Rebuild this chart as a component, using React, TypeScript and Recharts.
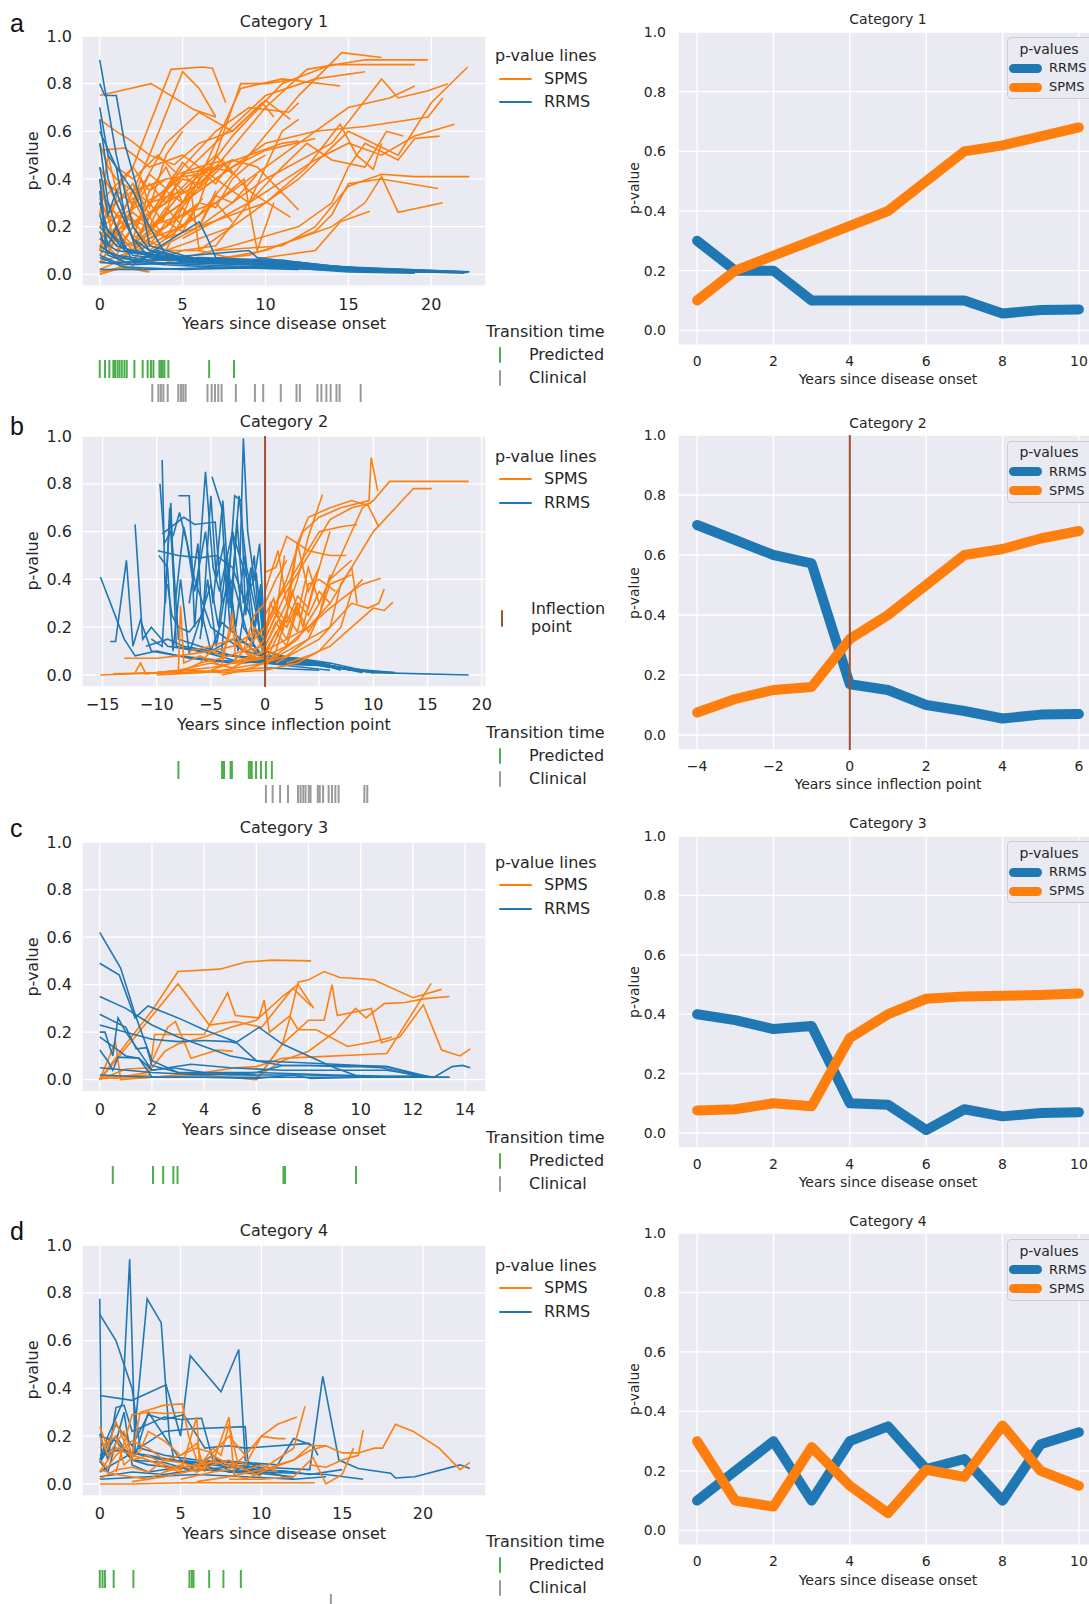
import { LineChart, Line, XAxis, YAxis, CartesianGrid, ReferenceLine, ScatterChart, Scatter } from "recharts"

const ORANGE = "#ff7f0e"
const BLUE = "#1f77b4"
const GREEN = "#4cae4c"
const GREY = "#9a9a9a"
const BROWN = "#a0522d"
const BG = "#eaeaf2"
const INK = "#262626"

// ---- Category 1: individual p-value lines, pairs of (year, p) ----
const cat1Spms: number[][] = [
  [0, .75, 3.1, .8, 5.7, .69, 7, .66],
  [0, .65, 1, .6, 1.9, .56, 3, .5, 4.5, .46, 6, .55, 8, .6, 9.8, .72, 10.5, .66],
  [0, .3, 2, .45, 4.3, .86, 6.2, .87, 6.8, .865, 7.6, .72],
  [1, .2, 3, .5, 5, .85, 6, .78, 7, .66],
  [0, .05, 3, .12, 6, .25, 9, .5, 12, .75, 14.6, .93, 17, .91],
  [1, .1, 4, .2, 7, .45, 10, .7, 12.5, .86, 16, .9, 19.8, .9],
  [2, .15, 5, .3, 8, .58, 11, .8, 14, .88, 19, .88],
  [0, .2, 4, .35, 8, .62, 10, .75, 13, .82, 16, .85],
  [1, .05, 5, .25, 8.5, .78, 11, .82, 14.5, .79],
  [3, .1, 7, .3, 10, .45, 13, .6, 15, .7, 17.5, .74, 19, .79],
  [2, .05, 6, .2, 10, .4, 14, .55, 17, .82, 18, .74, 19.8, .77, 21, .8],
  [4, .1, 8, .2, 12, .4, 15, .6, 18, .5, 20, .72, 22.2, .87],
  [3, .2, 7, .4, 10, .55, 13, .6, 16, .62, 19.8, .66, 20.7, .74],
  [5, .15, 9, .3, 13, .48, 15, .55, 17, .5, 19, .58, 21.4, .63],
  [4, .05, 8, .12, 12, .2, 14, .3, 15, .45, 16, .55, 18, .48, 19, .57, 20.5, .58],
  [6, .05, 10, .1, 13, .18, 14, .25, 15, .38, 17, .4, 20.4, .36],
  [7, .1, 11, .12, 13, .2, 15, .37, 17, .42, 19, .41, 22.3, .41],
  [5, .05, 9, .08, 12, .15, 14, .2, 16, .3, 17, .41, 18, .26, 20.7, .3],
  [8, .05, 11, .08, 13, .1, 14.5, .22, 16.3, .265],
  [6, .2, 10, .3, 12.5, .45, 14.5, .63, 15.5, .5, 16.5, .44, 17, .55],
  [9, .3, 11, .45, 12.5, .55, 14, .48, 16, .45, 17.3, .6, 18.3, .58],
  [0, .4, 2, .3, 4, .55, 6, .68, 8, .6, 10, .73, 11.5, .65],
  [0, .15, 3, .25, 5, .45, 7, .6, 9, .7, 11.4, .68, 12, .72],
  [1, .1, 3, .3, 5, .42, 7, .45, 9, .5, 11, .55, 12, .56],
  [2, .1, 4, .25, 6, .35, 8, .45, 10, .52, 13, .57],
  [0, .25, 2, .35, 4, .4, 6, .42, 8, .48, 9.5, .45, 12, .27],
  [0, .1, 2, .22, 4, .3, 6, .38, 7.5, .47, 9, .35, 11.5, .24],
  [1, .05, 3, .15, 5, .2, 7, .3, 8.7, .4, 9.5, .1, 10.5, .3],
  [3, .05, 5, .1, 7, .12, 9, .3, 11, .6, 12, .65],
  [4, .2, 6, .3, 7.5, .6, 8.5, .8, 10, .8, 12, .82],
  [0, .52, 1.5, .53, 3, .45, 5, .5, 7, .4, 9, .3],
  [0, .55, .5, .45, 1, .4, 3, .3, 5, .35],
  [0, .35, 1, .25, 3, .2, 5, .25, 7, .3, 8, .22],
  [0, .02, 1, .05, 2, .1, 4, .2, 5.5, .35, 6, .1, 8, .2],
  [0, .2, 1, .3, 2, .15, 3, .35, 4, .45, 5, .3],
  [0, .3, 1, .2, 2, .35, 3, .2, 4, .15, 6, .2, 7, .35],
  [0, .05, 1, .15, 2, .12, 3, .25, 4, .3, 5.5, .4, 7, .5, 8, .42],
  [0, .4, .8, .15, 1.8, .25, 2.5, .18, 3.5, .3, 4.5, .42],
  [0, .1, .5, .3, 1.5, .2, 2.5, .4, 3, .28, 4, .5, 5, .6],
  [0, 0, 1, .02, 2, .03, 3, .01],
  [0, 0, 2, .05, 4, .1, 6, .1, 9, .05],
  [0, .15, 1, .08, 2, .2, 3, .12, 4, .22, 5, .18, 6, .3],
  [0, .25, .5, .5, 1, .35, 2, .45, 3, .35, 4, .4],
  [0, .05, .6, .1, 1.2, .18, 2, .12, 3.5, .22, 5, .35, 6.5, .45, 8, .43],
  [1, .45, 2, .4, 3.5, .5, 4.7, .42, 6, .45, 7.5, .48],
  [0, .1, 1, .25, 2, .32, 3, .18, 4, .28, 5, .2, 6.2, .32],
  [0, .01, 1.5, .03, 2.9, .01],
  [0, .45, 1, .3, 2, .38, 3, .25, 4, .32, 5, .4, 6, .38, 7, .45],
  [0, .18, .7, .12, 1.4, .26, 2.2, .2, 3, .3, 3.8, .22, 4.6, .38, 5.5, .32],
  [0, .08, 1, .18, 2, .1, 3, .24, 4, .15, 5, .28, 6, .2, 7, .33, 8, .3, 9.5, .42],
  [0, .22, 1, .12, 2, .28, 3, .38, 4, .3, 5, .42, 6, .36, 7.5, .46],
  [0, .32, .6, .22, 1.3, .4, 2, .28, 3, .42, 4, .36, 5, .47, 6, .4],
  [1, .02, 2, .06, 3, .14, 4, .1, 5, .24, 6, .3, 7, .28, 8, .4, 9, .46, 10, .5],
  [0, .12, 1, .2, 2, .26, 3, .2, 4, .35, 5, .3, 6, .44, 7, .38, 8, .48],
]
const cat1Rrms: number[][] = [
  [0, .9, .5, .7, 1, .5, 2, .2, 3, .1, 5, .07, 10, .05, 15, .03, 22, .01],
  [0, .8, .3, .75, 1, .75, 1.5, .55, 2.5, .3, 3, .12, 6, .06, 12, .05, 16, .02],
  [0, .7, .5, .5, 1, .45, 2, .35, 3, .2, 4, .08, 8, .05, 14, .03, 22.3, .01],
  [0, .65, .5, .4, 1, .3, 2, .15, 3, .1, 5, .05, 9, .04, 15, .02, 20, .01],
  [0, .6, 1, .45, 1.5, .25, 2.2, .1, 4, .06, 10, .05, 17, .02, 21, .01],
  [0, .45, .5, .25, 1, .35, 2, .15, 3, .07, 7, .06, 13, .04, 19, .01],
  [0, .4, .3, .2, 1, .15, 2, .08, 4, .06, 8, .06, 11, .04, 16, .01],
  [0, .3, .5, .18, 1.5, .1, 3, .09, 6, .22, 6.5, .15, 7, .07, 12, .04, 18, .01],
  [0, .2, 1, .12, 2, .1, 4, .07, 9, .1, 9.5, .07, 14, .03, 20.5, .01],
  [0, .12, 1, .07, 3, .05, 6, .04, 10, .03, 15, .02, 22, .005],
  [0, .05, 2, .04, 5, .05, 9, .04, 13, .02, 17, .01, 21.5, .01],
  [0, .08, 1, .05, 4, .06, 7, .05, 11, .06, 14, .03, 18, .01],
  [0, .25, .5, .12, 1, .2, 2, .05, 4, .04, 7, .03, 12, .02],
  [0, .35, .4, .1, 1, .08, 3, .06, 6, .07, 10, .06, 13, .03],
  [0, .02, 3, .02, 8, .03, 14, .02, 22, .01],
  [0, .15, 1, .1, 3, .08, 5, .07, 8, .06, 12, .05, 16, .02, 20, .01],
  [0, .55, .5, .3, 1, .2, 1.5, .1, 3, .08, 6, .05],
  [0, .1, 2, .06, 4, .09, 6, .05, 10, .04, 14, .02, 22.2, .008],
  [0, .07, 1.5, .03, 5, .02, 11, .03, 15, .01, 19, .005],
  [0, .18, .5, .08, 2, .04, 3.5, .1, 5, .06, 9, .05, 13.5, .02],
]
const cat1Predicted = [0, .32, .58, .82, .92, 1.07, 1.19, 1.33, 1.49, 1.63, 2.09, 2.59, 2.89, 3.09, 3.24, 3.6, 3.7, 3.8, 3.9, 4.14, 6.6, 8.1]
const cat1Clinical = [3.17, 3.54, 3.69, 3.84, 4.1, 4.74, 4.9, 5.04, 5.18, 6.5, 6.75, 6.95, 7.15, 7.35, 8.21, 9.36, 9.86, 10.92, 11.87, 12.07, 13.13, 13.37, 13.67, 13.93, 14.28, 14.47, 15.74]
const cat1Years = [0, 1, 2, 3, 4, 5, 6, 7, 8, 9, 10]
const cat1MeanRrms = [.3, .2, .2, .1, .1, .1, .1, .1, .056, .068, .07]
const cat1MeanSpms = [.1, .2, .25, .3, .35, .4, .5, .6, .62, .65, .68]

// ---- Category 2 ----
const cat2Rrms: number[][] = [
  [-15.2, .41, -13, .15, -12, .08, -10, .1, -7, .07, -3, .05, 0, .06, 4, .05, 8, .02, 12, .01],
  [-14.3, .14, -13.8, .14, -12.8, .48, -12.2, .12, -11.5, .23, -10.5, .1, -8, .08, -4, .06, 0, .05, 5, .04, 10, .01, 18.8, 0],
  [-12, .63, -11.3, .15, -10.5, .2, -9, .12, -6, .1, -2, .05, 0, .06, 3, .05, 7, .03, 11.8, .01],
  [-9.5, .9, -9.2, .3, -8.8, .7, -8, .15, -6, .12, -3, .08, 0, .07, 4, .06, 8, .02],
  [-9.7, .8, -9.3, .55, -8.7, .6, -8.3, .3, -7.5, .62, -6.5, .4, -5, .2, -2, .1, 0, .08, 3, .07, 6, .05, 9, .02],
  [-9.9, .52, -8, .5, -6, .49, -4.5, .5, -3, .45, -1, .2, 0, .1, 2, .07, 6, .04, 10, .01],
  [-9.5, .59, -7.5, .66, -6.5, .63, -4.6, .64, -4, .3, -3, .4, -1.5, .15, 0, .07, 4, .06, 7, .03],
  [-8, .75, -7, .75, -6.5, .2, -5.5, .85, -4.8, .45, -4.2, .35, -3, .6, -2, .2, 0, .05, 3, .06, 6, .03],
  [-4.9, .83, -4, .7, -3.5, .3, -2.8, .75, -2.2, .73, -1.8, .25, -1, .5, -.5, .15, 0, .06, 5, .05, 9, .01],
  [-2.3, .5, -2, .99, -1.6, .6, -1, .4, -.5, .55, -.2, .3, 0, .1, 4, .05, 8, .02],
  [-9.8, .5, -9, .45, -8.5, .1, -7.8, .4, -7, .09, -5, .38, -4.3, .2, -3.5, .5, -2.5, .1, -1.3, .45, 0, .03, 5, .02],
  [-7, .3, -6.2, .55, -5.8, .2, -5, .75, -4.5, .4, -3.8, .55, -3.2, .18, -2.6, .65, -2, .3, -.8, .42, 0, .08, 3, .07, 6, .04, 10, .01],
  [-11, .12, -9, .15, -7.5, .12, -5, .1, -3, .15, -1, .12, 0, .05, 2, .04, 6, .02],
  [-8.5, .58, -7.9, .68, -7.2, .55, -6.5, .35, -5.5, .6, -4.8, .3, -3.9, .73, -3.2, .28, -2.4, .75, -1.7, .45, -1, .3, 0, .07, 4, .06, 7, .02],
  [-4, .1, -3, .6, -2.5, .52, -1.5, .38, -1, .2, -.5, .35, 0, .05, 5, .04],
  [-6, .15, -5.3, .4, -4.5, .12, -3.4, .42, -2.7, .2, -1.9, .5, -1.1, .13, -.4, .38, 0, .04],
  [-9, .38, -8.6, .25, -8, .2, -7, .18, -5.8, .25, -5, .1, -4, .22, 0, .06, 6, .05],
  [-10.5, .15, -9.5, .12, -8.7, .72, -8.2, .12, -6, .1, -3, .08, 0, .06, 4, .05, 9, .015],
]
const cat2Spms: number[][] = [
  [-15.2, 0, -12, .005, -8, .01, -4, .02, 0, .05, 3, .15, 5, .3, 7, .5, 9, .7, 10, .73, 11.5, .81, 18.8, .81],
  [-10, .01, -5, .03, 0, .08, 2, .12, 4, .2, 6, .3, 8, .45, 10, .6, 13.7, .78, 15.4, .78],
  [-3, .05, 0, .2, 2, .4, 3.5, .6, 5, .66, 7, .7, 9.6, .73, 9.8, .91, 10.4, .77],
  [-5, .02, 0, .1, 2, .25, 3, .55, 4, .66, 6, .7, 8, .73, 9.5, .71, 10.5, .62],
  [0, .05, 1.5, .2, 3, .4, 4, .58, 5.3, .755],
  [-2, .05, 0, .15, 2, .35, 4, .5, 6, .65, 8, .7, 9.8, .72],
  [0, .12, 2, .3, 3, .55, 4, .52, 6, .5, 7.5, .5],
  [0, .2, 1, .3, 3, .45, 5, .6, 7, .62, 8.5, .63],
  [0, .43, 1, .45, 2, .58, 3, .55, 4, .35, 5, .45, 6, .6],
  [0, .35, 1.2, .52, 2, .3, 3, .25, 4, .45, 5, .3, 6, .4, 8, .48],
  [0, .1, 2, .15, 4, .2, 6, .28, 8, .35, 9, .38, 10.7, .405],
  [1, .05, 3, .1, 5, .15, 7, .25, 8, .3, 9.5, .28, 10.5, .3, 11, .36],
  [2, .05, 4, .08, 6, .12, 8, .2, 10, .28, 11, .27, 11.8, .305],
  [0, .05, 2, .1, 4, .15, 6, .2, 7, .38, 8, .45, 8.5, .3],
  [0, .15, 1, .25, 2, .2, 3, .3, 4, .25, 5, .35, 6, .3],
  [0, .08, 1, .18, 2, .12, 3, .28, 4, .18, 5, .25, 6, .42],
  [0, .25, .8, .32, 1.6, .18, 2.5, .35, 3.5, .2, 4.5, .38],
  [-8, .01, -6, .05, -4, .07, -2, .1, 0, .12, 1, .22, 2, .15, 3, .3],
  [-13, .07, -10, .07, -8, .08, -5, .1, -3, .12, -1, .18, 0, .09],
  [-12, .01, -11.5, .05, -11, .005, -8, .02, -5, .05, -3, .03, 0, .1],
  [-8, .02, -7.8, .29, -7.5, .05, -6, .08, -4, .04, -3, .26, -2.7, .05, 0, .07],
  [-10, 0, -6, .01, -3, .02, 0, .03, 1, .1, 2, .25, 3, .18, 4, .38, 5, .4, 6.5, .35],
  [-6, .05, -5, .1, -4, .08, -3, .2, -2, .1, -1, .25, 0, .3, 1, .4, 2, .48],
  [-4, 0, -2, .02, 0, .05, 2, .08, 4, .15, 5, .25, 6, .38, 7, .4, 8, .42],
  [-14, .005, -10, .01, -7, .02, -4, .01, 0, .02, 3, .05, 5, .1, 7, .2, 8, .35, 9, .4],
  [-7, .1, -5, .12, -3, .15, -1.5, .08, -1, .2, 0, .15, .5, .3, 1, .25, 1.8, .5],
  [0, .18, 1, .28, 2, .22, 3, .33, 4, .28, 5, .45],
]
const cat2Predicted = [-8, -3.97, -3.79, -3.18, -3.06, -1.5, -1.35, -1.23, -.83, -.38, .08, .63]
const cat2Clinical = [.08, .7, 1.39, 2.12, 3.04, 3.28, 3.53, 3.74, 4.04, 4.2, 4.87, 5.05, 5.36, 5.87, 6.18, 6.49, 6.79, 9.17, 9.44]
const cat2Years = [-4, -3, -2, -1, 0, 1, 2, 3, 4, 5, 6]
const cat2MeanRrms = [.7, .65, .6, .572, .169, .15, .1, .08, .055, .068, .07]
const cat2MeanSpms = [.075, .12, .15, .16, .32, .4, .5, .6, .62, .655, .68]

// ---- Category 3 ----
const cat3Spms: number[][] = [
  [0, 0, 1, .15, 2, .29, 3, .455, 4.6, .465, 5.6, .495, 6.6, .503, 8.1, .5],
  [0, 0, 1.5, .2, 3, .403, 4.2, .23, 5.2, .245, 6.2, .22, 7.4, .385, 8.1, .31],
  [0, .01, 1.9, .02, 2.1, .19, 4, .19, 4.9, .365, 5.2, .27, 6.1, .26, 6.3, .335, 6.5, .2, 7.3, .27, 7.6, .41, 8, .42, 8.6, .455, 9.2, .43, 10, .425, 10.5, .42, 12, .345, 13.1, .38],
  [.5, .005, 1.8, .03, 2.6, .22, 2.9, .245, 3.5, .09, 4.5, .125, 5.1, .12],
  [0, 0, .6, .16, .8, 0, 2, .01, 4, .02, 6, 0, 7, .15, 7.3, .265, 7.6, .21, 8.3, .21, 9.5, .14, 10.5, .16, 11.2, .18],
  [0, .005, 2, .01, 4, .03, 5.2, .05, 6, .055, 7, .09, 8, .095, 10, .105, 11, .11, 12.7, .405],
  [0, 0, 1, .045, 2, .05, 2.5, .12, 3, .15, 4, .18, 5, .22, 6, .25, 7, .35, 7.6, .4, 8.2, .3],
  [6, 0, 7, .15, 8, .25, 8.6, .25, 8.9, .4, 9.1, .27, 10, .29, 10.4, .3, 10.8, .155, 11.5, .18, 12.4, .315, 13.1, .125, 13.8, .1, 14.2, .13],
  [6, .01, 7, .08, 8, .12, 9, .2, 9.8, .3, 10.2, .26, 10.9, .32, 11.7, .325, 12.4, .34, 13.4, .35],
]
const cat3Rrms: number[][] = [
  [0, .62, .8, .47, 1.4, .26, 2, .08, 3, .03, 5, .02, 8, .02, 11, .01, 13.4, .01],
  [0, .49, .75, .44, 1.35, .26, 1.85, .31, 3, .26, 4, .21, 5.2, .16, 6, .08, 7, .06, 9, .06, 11, .055, 12.7, .01],
  [0, .35, 1, .3, 2, .23, 3, .18, 4, .14, 5, .1, 6, .08, 8, .07, 10, .06, 11, .055, 12.5, .01],
  [0, .275, 1, .22, 1.4, .13, 1.8, .135, 2, .06, 3, .03, 6, .03, 9, .02, 13, .01],
  [0, .23, 1, .2, 2, .17, 3, .16, 4, .165, 5, .16, 5.2, .155, 6.1, .22, 7, .15, 8, .1, 9, .05, 10, .01],
  [0, .2, .2, .2, .5, .1, .7, .26, 1, .2, 1.5, .12, 2, .04, 2.8, .05, 4, .03, 6, .02],
  [0, .18, .5, .14, 1, .1, 1.5, .09, 2, .04, 3.5, .065, 5, .05, 7, .04, 9, .04, 11, .04, 12.8, .01, 13.5, .055, 13.9, .06, 14.2, .05],
  [0, .125, .3, .08, .5, .04, .7, .095, 1.5, .09, 2, .01, 5, .01, 8, .01, 11, .01, 13.4, .01],
  [0, .05, 2, .03, 4, .02, 6, .03, 7, .06, 8, .06, 9.3, .055, 10, .055, 10.8, .05, 12, .02, 12.5, .01],
  [0, .02, 2, .01, 4, .01, 6, .005, 7.4, .02, 8.1, .005, 10, .01, 12, .015],
]
const cat3Predicted = [.5, 2.04, 2.43, 2.82, 2.98, 7.04, 7.1, 9.82]
const cat3Clinical: number[] = []
const cat3Years = [0, 1, 2, 3, 4, 5, 6, 7, 8, 9, 10]
const cat3MeanRrms = [.4, .38, .35, .36, .1, .095, .01, .08, .056, .067, .07]
const cat3MeanSpms = [.076, .08, .1, .09, .32, .4, .452, .46, .462, .465, .47]

// ---- Category 4 ----
const cat4Rrms: number[][] = [
  [0, .775, .1, .1, 1, .2, 2, .1, 3, .08, 6, .06, 10, .05, 14, .04, 16.3, .02],
  [0, .71, 1, .6, 2, .4, 2.5, .15, 4, .12, 6, .1, 10, .08],
  [0, .1, .5, .2, 1.4, .34, 1.85, .94, 2.2, .12, 3, .3, 4, .2, 5, .1, 7, .08],
  [2, .1, 2.93, .775, 3.8, .675, 4.3, .2, 4.6, .1, 6, .08, 8, .05, 10, .04],
  [0, .37, 2, .35, 4.1, .415, 5, .2, 5.6, .537, 7.5, .386, 8.6, .563, 9, .1, 10, .06, 12, .05],
  [0, .12, 1, .15, 2, .13, 4, .1, 6, .09, 10, .07, 13, .06, 13.8, .45, 14.8, .1, 16, .065, 18, .045, 18.3, .025, 19.5, .03, 22.3, .08, 22.9, .065],
  [0, .21, .5, .1, 1, .32, 1.5, .33, 2, .22, 4, .28, 5, .27, 6.3, .275, 7, .1, 9, .09, 11, .08, 12, .19, 13.2, .16, 13.5, .12],
  [0, .05, 2, .13, 4, .22, 5.5, .23, 9, .24, 9.2, .05, 12, .03],
  [0, .09, 1, .25, 2, .16, 3, .29, 4, .27, 5.2, .29, 6.5, .15, 8, .16, 9, .15, 13, .17],
  [0, .03, 2, .05, 4, .04, 6, .06, 8, .07, 10, .06, 12, .05, 13, .04, 15, .06],
  [0, .02, 3, .03, 6, .04, 9, .03, 12, .02, 14, .03],
  [.5, .12, 1, .14, 3, .12, 6, .08, 7.5, .1, 8, .05, 9, .07, 11, .04, 12, .02],
  [0, .2, 1, .18, 2, .1, 4, .09, 5.5, .06, 7, .12, 8, .05, 10, .06],
  [0, .095, .5, .05, 1.5, .3, 2, .08, 3, .05, 5, .07, 7, .08, 9.5, .06],
]
const cat4Spms: number[][] = [
  [0, 0, 2, 0, 5, .005, 10, .005, 13.3, .005],
  [0, .24, .5, .15, 1, .26, 2, .1, 3, .12, 4, .08, 5, .06],
  [0, .2, .5, .12, 1.5, .22, 2, .12, 2.5, .3, 3, .31, 4, .33, 5.1, .335, 5.5, .2, 6, .1, 7, .05],
  [1, .05, 2, .29, 3, .3, 4, .295, 5.2, .3],
  [0, .05, 1, .15, 2, .12, 3, .1, 4, .07, 5, .05, 6, .28, 6.2, .06, 7, .1, 8, .07],
  [2, .01, 4, .03, 6, .06, 7, .15, 7.5, .12, 8, .25, 8.5, .1, 9, .08, 10, .2, 11, .19, 11.5, .19],
  [5, .02, 7, .05, 8, .06, 9, .12, 10, .2, 11, .25, 12.2, .28],
  [6, .01, 8, .03, 10, .06, 12, .15, 12.7, .325],
  [8, .02, 10, .02, 12, .03, 13.2, .11, 14, 0, 15, .04, 15.7, .15],
  [10, .05, 12, .1, 13, .16, 14, .16, 15, .13, 16, .13, 17, .15, 17.5, .15, 18.3, .25, 19.4, .22, 21, .15, 22.3, .06, 22.9, .09],
  [13, .08, 14, .07, 15, .1, 16, .12, 16.3, .225],
  [0, .02, 1, .06, 2, .07, 3, .05, 4, .1, 5, .09, 6, .07, 7, .12, 8, .08, 9, .06, 10, .08, 11, .05],
  [0, .1, .5, .07, 1, .12, 2, .18, 3, .15, 4, .1, 5, .12, 6, .15, 7, .13, 8, .2, 9, .12],
  [4, .05, 5, .07, 6, .08, 7, .09, 8, .28, 8.3, .04, 9, .02, 10, .05, 11, .08, 12, .1, 13, .14, 14, .16],
  [0, .06, 1, .04, 3, .02, 5, .08, 6, .05, 7, .08, 8, .1, 9, .06, 10, .03],
  [0, .15, 1, .2, 1.5, .08, 2.5, .14, 3, .22, 4, .18, 5, .12, 6, .17, 6.5, .05],
]
const cat4Predicted = [0, .17, .32, .86, 2.08, 5.55, 5.7, 5.8, 6.77, 7.65, 8.73]
const cat4Clinical = [14.3]
const cat4Years = [0, 1, 2, 3, 4, 5, 6, 7, 8, 9, 10]
const cat4MeanRrms = [.1, .2, .3, .1, .3, .35, .206, .24, .1, .29, .33]
const cat4MeanSpms = [.3, .1, .08, .28, .15, .058, .204, .18, .353, .2, .15]

const yTicks = [0, 0.2, 0.4, 0.6, 0.8, 1.0]

const toPts = (flat: number[]) => {
  const pts = []
  for (let i = 0; i < flat.length; i += 2) pts.push({ x: flat[i], y: flat[i + 1] })
  return pts
}
const fmtX = (v: number) => (v < 0 ? "\u2212" + Math.abs(v) : String(v))
const fmtY = (v: number) => v.toFixed(1)

function Txt({ x, y, size = 16, center = false, rotate = false, children }: any) {
  let transform = center ? "translate(-50%, -50%)" : "translateY(-50%)"
  if (rotate) transform = "translate(-50%, -50%) rotate(-90deg)"
  return (
    <div style={{ position: "absolute", left: x, top: y, fontSize: size, lineHeight: 1.15, whiteSpace: "nowrap", color: INK, transform }}>
      {children}
    </div>
  )
}

function SpaghettiPanel({ top, zero, domain, ticks, spms, rrms, spmsFirst, inflection }: any) {
  const plotH = (zero - top) * 1.05
  const mt = 12
  const orange = spms.map((l: number[], i: number) => (
    <Line key={"s" + i} data={toPts(l)} dataKey="y" type="linear" stroke={ORANGE} strokeWidth={1.6} dot={false} activeDot={false} isAnimationActive={false} />
  ))
  const blue = rrms.map((l: number[], i: number) => (
    <Line key={"r" + i} data={toPts(l)} dataKey="y" type="linear" stroke={BLUE} strokeWidth={1.6} dot={false} activeDot={false} isAnimationActive={false} />
  ))
  return (
    <div style={{ position: "absolute", left: 0, top: top - mt }}>
      <LineChart width={514} height={mt + plotH + 34} margin={{ top: mt, right: 28, left: 0, bottom: 0 }}>
        <CartesianGrid fill={BG} stroke="#ffffff" strokeWidth={1.3} />
        <XAxis type="number" dataKey="x" domain={domain} ticks={ticks} allowDataOverflow interval={0} tickFormatter={fmtX}
          tickLine={false} axisLine={false} height={34} tickMargin={6} tick={{ fontSize: 16, fill: INK }} />
        <YAxis type="number" domain={[-0.05, 1]} ticks={yTicks} allowDataOverflow interval={0} tickFormatter={fmtY}
          tickLine={false} axisLine={false} width={82} tickMargin={4} tick={{ fontSize: 16, fill: INK }} />
        {spmsFirst ? orange : blue}
        {spmsFirst ? blue : orange}
        {inflection && <ReferenceLine x={0} stroke={BROWN} strokeWidth={2} />}
      </LineChart>
    </div>
  )
}

function MeanPanel({ top, zero, domain, ticks, years, rrms, spms, inflection }: any) {
  const plotH = (zero - top) * 1.05
  const mt = 12
  const data = years.map((x: number, i: number) => ({ x, rrms: rrms[i], spms: spms[i] }))
  return (
    <div style={{ position: "absolute", left: 600, top: top - mt }}>
      <LineChart width={500} height={mt + plotH + 30} data={data} margin={{ top: mt, right: 2, left: 0, bottom: 0 }}>
        <CartesianGrid fill={BG} stroke="#ffffff" strokeWidth={1.3} />
        <XAxis type="number" dataKey="x" domain={domain} ticks={ticks} allowDataOverflow interval={0} tickFormatter={fmtX}
          tickLine={false} axisLine={false} height={30} tickMargin={5} tick={{ fontSize: 14, fill: INK }} />
        <YAxis type="number" domain={[-0.05, 1]} ticks={yTicks} allowDataOverflow interval={0} tickFormatter={fmtY}
          tickLine={false} axisLine={false} width={78} tickMargin={6} tick={{ fontSize: 14, fill: INK }} />
        <Line dataKey="rrms" type="linear" stroke={BLUE} strokeWidth={10} strokeLinecap="round" strokeLinejoin="round" dot={false} activeDot={false} isAnimationActive={false} />
        <Line dataKey="spms" type="linear" stroke={ORANGE} strokeWidth={10} strokeLinecap="round" strokeLinejoin="round" dot={false} activeDot={false} isAnimationActive={false} />
        {inflection && <ReferenceLine x={0} stroke={BROWN} strokeWidth={2} />}
      </LineChart>
    </div>
  )
}

function Rug({ zero, domain, predicted, clinical }: any) {
  const tick = (color: string) => (p: any) => (
    <line x1={p.cx} x2={p.cx} y1={p.cy - 9} y2={p.cy + 9} stroke={color} strokeWidth={2} />
  )
  return (
    <div style={{ position: "absolute", left: 0, top: zero + 82.5 }}>
      <ScatterChart width={490} height={48} margin={{ top: 0, right: 4, left: 82, bottom: 0 }}>
        <XAxis type="number" dataKey="x" domain={domain} allowDataOverflow hide />
        <YAxis type="number" dataKey="y" domain={[0, 2]} hide />
        <Scatter data={predicted.map((x: number) => ({ x, y: 1.5 }))} fill={GREEN} shape={tick(GREEN)} isAnimationActive={false} />
        <Scatter data={clinical.map((x: number) => ({ x, y: 0.5 }))} fill={GREY} shape={tick(GREY)} isAnimationActive={false} />
      </ScatterChart>
    </div>
  )
}

const rows = [
  { letter: "a", title: "Category 1", lt: 35.7, lz: 274, rt: 31.7, rz: 330, domain: [-1.07, 23.3], ticks: [0, 5, 10, 15, 20],
    xTitle: "Years since disease onset", spms: cat1Spms, rrms: cat1Rrms, spmsFirst: true, pred: cat1Predicted, clin: cat1Clinical,
    years: cat1Years, mRrms: cat1MeanRrms, mSpms: cat1MeanSpms, rDomain: [-0.5, 10.5], rTicks: [0, 2, 4, 6, 8, 10], letterBase: 32 },
  { letter: "b", title: "Category 2", lt: 436, lz: 675, rt: 435, rz: 735, domain: [-16.9, 20.4], ticks: [-15, -10, -5, 0, 5, 10, 15, 20],
    xTitle: "Years since inflection point", spms: cat2Spms, rrms: cat2Rrms, spmsFirst: false, pred: cat2Predicted, clin: cat2Clinical,
    years: cat2Years, mRrms: cat2MeanRrms, mSpms: cat2MeanSpms, rDomain: [-4.5, 6.5], rTicks: [-4, -2, 0, 2, 4, 6], letterBase: 435, inflection: true },
  { letter: "c", title: "Category 3", lt: 842.3, lz: 1080, rt: 835.7, rz: 1132.7, domain: [-0.68, 14.8], ticks: [0, 2, 4, 6, 8, 10, 12, 14],
    xTitle: "Years since disease onset", spms: cat3Spms, rrms: cat3Rrms, spmsFirst: true, pred: cat3Predicted, clin: cat3Clinical,
    years: cat3Years, mRrms: cat3MeanRrms, mSpms: cat3MeanSpms, rDomain: [-0.5, 10.5], rTicks: [0, 2, 4, 6, 8, 10], letterBase: 837 },
  { letter: "d", title: "Category 4", lt: 1245, lz: 1484, rt: 1233.3, rz: 1530.7, domain: [-1.1, 23.9], ticks: [0, 5, 10, 15, 20],
    xTitle: "Years since disease onset", spms: cat4Spms, rrms: cat4Rrms, spmsFirst: false, pred: cat4Predicted, clin: cat4Clinical,
    years: cat4Years, mRrms: cat4MeanRrms, mSpms: cat4MeanSpms, rDomain: [-0.5, 10.5], rTicks: [0, 2, 4, 6, 8, 10], letterBase: 1240 },
]

function Handle({ x, y, w, h, color }: any) {
  return <div style={{ position: "absolute", left: x, top: y - h / 2, width: w, height: h, background: color, borderRadius: h / 2 }} />
}

export default function App() {
  return (
    <div style={{ position: "absolute", left: 0, top: 0, width: 1089, height: 1604, overflow: "hidden", background: "#fff", fontFamily: '"DejaVu Sans", sans-serif' }}>
      {rows.map((r) => {
        const lBottom = r.lz + (r.lz - r.lt) * 0.05
        const rBottom = r.rz + (r.rz - r.rt) * 0.05
        return (
          <div key={r.letter}>
            <SpaghettiPanel top={r.lt} zero={r.lz} domain={r.domain} ticks={r.ticks} spms={r.spms} rrms={r.rrms} spmsFirst={r.spmsFirst} inflection={r.inflection} />
            <Rug zero={r.lz} domain={r.domain} predicted={r.pred} clinical={r.clin} />
            <MeanPanel top={r.rt} zero={r.rz} domain={r.rDomain} ticks={r.rTicks} years={r.years} rrms={r.mRrms} spms={r.mSpms} inflection={r.inflection} />

            <div style={{ position: "absolute", left: 10, top: r.letterBase - 21.2, fontSize: 25, lineHeight: "25px", fontFamily: '"Liberation Sans", Arial, sans-serif', color: "#111" }}>{r.letter}</div>

            <Txt x={284} y={r.lt - 14} center>{r.title}</Txt>
            <Txt x={33} y={(r.lt + lBottom) / 2} rotate>p-value</Txt>
            <Txt x={284} y={r.lz + 50} center>{r.xTitle}</Txt>

            <Txt x={495} y={r.lt + 20.5}>p-value lines</Txt>
            <Handle x={499} y={r.lt + 43} w={33} h={2} color={ORANGE} />
            <Txt x={544} y={r.lt + 43}>SPMS</Txt>
            <Handle x={499} y={r.lt + 66.5} w={33} h={2} color={BLUE} />
            <Txt x={544} y={r.lt + 66.5}>RRMS</Txt>
            {r.inflection && (
              <>
                <Handle x={501} y={r.lt + 182.5} w={2} h={17} color={BROWN} />
                <Txt x={531} y={r.lt + 173}>Inflection</Txt>
                <Txt x={531} y={r.lt + 191}>point</Txt>
              </>
            )}

            <Txt x={486} y={r.lz + 57.5}>Transition time</Txt>
            <Handle x={499} y={r.lz + 80.5} w={2} h={16} color={GREEN} />
            <Txt x={529} y={r.lz + 80.5}>Predicted</Txt>
            <Handle x={499} y={r.lz + 104} w={2} h={16} color={GREY} />
            <Txt x={529} y={r.lz + 104}>Clinical</Txt>

            <Txt x={888} y={r.rt - 12.3} size={14} center>{r.title}</Txt>
            <Txt x={634} y={(r.rt + rBottom) / 2} size={14} rotate>p-value</Txt>
            <Txt x={888} y={r.rz + 49} size={14} center>{r.xTitle}</Txt>

            <div style={{ position: "absolute", left: 1007, top: r.rt + 5.5, width: 110, height: 62, background: BG, border: "1px solid #cccccc", borderRadius: 4, boxSizing: "border-box" }} />
            <Txt x={1049} y={r.rt + 17.3} size={14} center>p-values</Txt>
            <Handle x={1009} y={r.rt + 36.5} w={33} h={9} color={BLUE} />
            <Txt x={1049} y={r.rt + 36.5} size={13}>RRMS</Txt>
            <Handle x={1009} y={r.rt + 55.5} w={33} h={9} color={ORANGE} />
            <Txt x={1049} y={r.rt + 55.5} size={13}>SPMS</Txt>
          </div>
        )
      })}
    </div>
  )
}
